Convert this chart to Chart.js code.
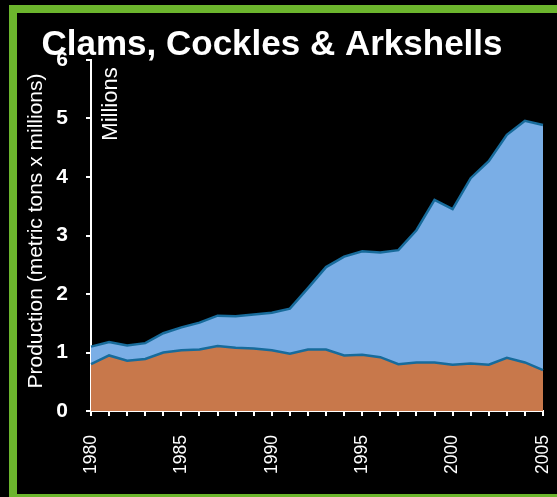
<!DOCTYPE html>
<html>
<head>
<meta charset="utf-8">
<script src="https://cdn.jsdelivr.net/npm/chart.js@4/dist/chart.umd.min.js"></script>
<style>
  html, body { margin: 0; padding: 0; background: #000; }
  #wrap { position: relative; width: 557px; height: 497px; overflow: hidden; background: #000; }
  #grafica { position: absolute; left: 0; top: 0; }
  .verde { position: absolute; background: #6cb52d; }
</style>
</head>
<body>
<div id="wrap">
  <canvas id="grafica" width="557" height="497"></canvas>
  <div class="verde" style="left:9px; top:5px; width:8px; height:492px;"></div>
  <div class="verde" style="left:9px; top:5px; width:548px; height:8px;"></div>
  <div class="verde" style="left:9px; top:494px; width:548px; height:3px;"></div>
</div>
<script>
var anios = [1980, 1981, 1982, 1983, 1984, 1985, 1986, 1987, 1988, 1989, 1990, 1991, 1992,
             1993, 1994, 1995, 1996, 1997, 1998, 1999, 2000, 2001, 2002, 2003, 2004, 2005];
// brown band (lower series)
var captura = [0.80, 0.95, 0.86, 0.89, 1.00, 1.04, 1.05, 1.11, 1.08, 1.07, 1.04, 0.98, 1.05,
               1.05, 0.95, 0.96, 0.92, 0.80, 0.83, 0.83, 0.79, 0.81, 0.79, 0.91, 0.83, 0.70];
// top edge of the blue band (total production)
var total = [1.10, 1.18, 1.12, 1.16, 1.33, 1.43, 1.51, 1.63, 1.62, 1.65, 1.68, 1.75, 2.10,
             2.46, 2.64, 2.73, 2.71, 2.75, 3.09, 3.61, 3.45, 3.98, 4.27, 4.72, 4.96, 4.89];
var ticksY = [0, 1, 2, 3, 4, 5, 6];
var titulo = "Clams, Cockles & Arkshells";
var tituloY = "Production (metric tons x millions)";
var unidades = "Millions";

var textos = {
    id: "textos",
    afterDraw: function(chart) {
        var ctx = chart.ctx;
        ctx.save();
        ctx.fillStyle = "#fff";
        ctx.textAlign = "center";
        ctx.textBaseline = "alphabetic";
        ctx.font = "bold 35px 'Liberation Sans', Arial, sans-serif";
        ctx.fillText(titulo, 272, 55);

        ctx.font = "21px 'Liberation Sans', Arial, sans-serif";
        ctx.translate(42, 231);
        ctx.rotate(-Math.PI / 2);
        ctx.fillText(tituloY, 0, 0);
        ctx.restore();

        ctx.save();
        ctx.fillStyle = "#fff";
        ctx.textAlign = "center";
        ctx.textBaseline = "alphabetic";
        ctx.font = "22px 'Liberation Sans', Arial, sans-serif";
        ctx.translate(116.5, 104);
        ctx.rotate(-Math.PI / 2);
        ctx.fillText(unidades, 0, 0);
        ctx.restore();
    }
};

var ctx = document.getElementById("grafica").getContext("2d");
var grafica = new Chart(ctx, {
    type: "line",
    data: {
        labels: anios,
        datasets: [
            {
                label: "Capture",
                data: captura,
                backgroundColor: "#c8784b",
                borderColor: "#176b9b",
                borderWidth: 2.5,
                pointRadius: 0,
                tension: 0,
                fill: "origin"
            },
            {
                label: "Total",
                data: total,
                backgroundColor: "#7aaee6",
                borderColor: "#176b9b",
                borderWidth: 2.5,
                pointRadius: 0,
                tension: 0,
                fill: "-1"
            }
        ]
    },
    options: {
        responsive: false,
        animation: false,
        layout: { padding: { left: 0, top: 60, right: 14, bottom: 0 } },
        plugins: {
            legend: { display: false },
            tooltip: { enabled: false }
        },
        scales: {
            x: {
                type: "category",
                offset: false,
                afterFit: function(s) {
                    s.height = 86;
                    s.paddingLeft = 0;
                    s.paddingRight = 0;
                },
                grid: { drawOnChartArea: false, drawTicks: true, tickLength: 5, color: "#fff", lineWidth: 2 },
                border: { color: "#fff", width: 2 },
                ticks: {
                    autoSkip: false,
                    minRotation: 90,
                    maxRotation: 90,
                    padding: 19,
                    color: "#fff",
                    font: { family: "'Liberation Sans', Arial, sans-serif", size: 17.5 },
                    callback: function(valor, i) {
                        var a = anios[i];
                        return a % 5 === 0 ? String(a) : "";
                    }
                }
            },
            y: {
                min: ticksY[0],
                max: ticksY[ticksY.length - 1],
                afterFit: function(s) { s.width = 91; },
                afterBuildTicks: function(s) { s.ticks = ticksY.map(function(v) { return { value: v }; }); },
                grid: { drawOnChartArea: false, drawTicks: true, tickLength: 5, color: "#fff", lineWidth: 2 },
                border: { color: "#fff", width: 2 },
                ticks: {
                    padding: 18,
                    color: "#fff",
                    font: { family: "'Liberation Sans', Arial, sans-serif", size: 21, weight: "bold" }
                }
            }
        }
    },
    plugins: [textos]
});
</script>
</body>
</html>
